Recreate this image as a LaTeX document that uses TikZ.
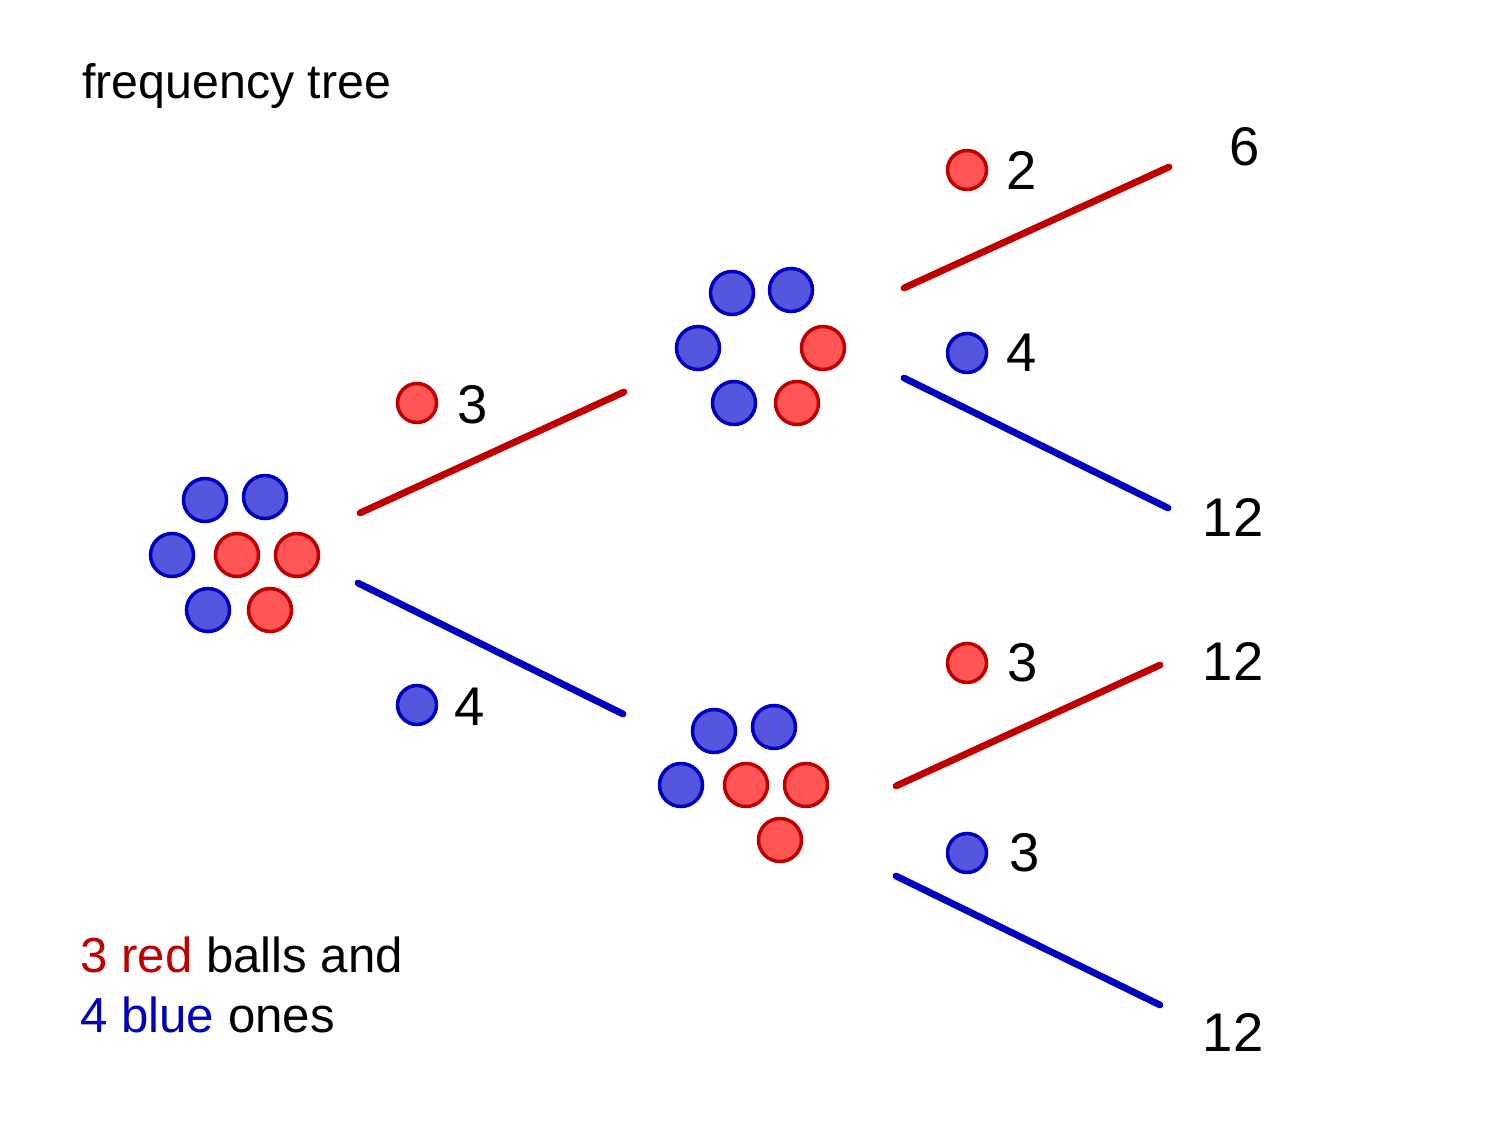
\documentclass[tikz,border=0pt]{standalone}
\usepackage{fontspec}
\setmainfont{Liberation Sans}
\begin{document}
\definecolor{rf}{HTML}{FF5555}\definecolor{rs}{HTML}{C00000}
\definecolor{bf}{HTML}{5555DD}\definecolor{bs}{HTML}{0000C0}
\begin{tikzpicture}[x=0.02cm,y=-0.02cm,
 R/.style={circle,draw=rs,fill=rf,line width=2pt,minimum size=0.86cm,inner sep=0pt},
 B/.style={circle,draw=bs,fill=bf,line width=2pt,minimum size=0.86cm,inner sep=0pt},
 r/.style={R,minimum size=0.78cm},b/.style={B,minimum size=0.78cm},
 rl/.style={draw=rs,line width=3.9pt,line cap=round},
 bl/.style={draw=bs,line width=3.9pt,line cap=round},
 num/.style={font=\fontsize{31}{36}\selectfont},
 txt/.style={font=\fontsize{28}{32}\selectfont,anchor=west,inner sep=0pt}]
\useasboundingbox (0,0) rectangle (1500,1125);
\node[txt,font=\fontsize{27.5}{32}\selectfont] (title) at (82,86) {frequency tree};
% left cluster
\node[B] (l1) at (205,500) {};\node[B] (l2) at (265,497) {};\node[B] (l3) at (172,555) {};\node[B] (l4) at (208,610) {};
\node[R] (l5) at (237,555) {};\node[R] (l6) at (297,555) {};\node[R] (l7) at (270,610) {};
% top cluster
\node[B] (t1) at (732,293) {};\node[B] (t2) at (791,290) {};\node[B] (t3) at (698,348) {};\node[B] (t4) at (734,403) {};
\node[R] (t5) at (823,348) {};\node[R] (t6) at (797,403) {};
% bottom cluster
\node[B] (u1) at (714,731) {};\node[B] (u2) at (774,727) {};\node[B] (u3) at (681,785) {};
\node[R] (u4) at (746,785) {};\node[R] (u5) at (806,785) {};\node[R] (u6) at (780,840) {};
% lines
\coordinate (a1) at (360,513);\coordinate (a2) at (624,392);
\coordinate (b1) at (358,583);\coordinate (b2) at (623,714);
\coordinate (c1) at (904,288);\coordinate (c2) at (1169,167);
\coordinate (d1) at (904,378);\coordinate (d2) at (1168,508);
\coordinate (e1) at (896,786);\coordinate (e2) at (1160,665);
\coordinate (f1) at (896,876);\coordinate (f2) at (1160,1005);
\draw[rl] (a1)--(a2);\draw[bl] (b1)--(b2);\draw[rl] (c1)--(c2);
\draw[bl] (d1)--(d2);\draw[rl] (e1)--(e2);\draw[bl] (f1)--(f2);
% branch labels
\node[r] (s1) at (417,403) {};\node[num] (n1) at (473,405) {3};
\node[b] (s2) at (417,705) {};\node[num] (n2) at (470,707) {4};
\node[r] (s3) at (967,170) {};\node[num] (n3) at (1022,170) {2};
\node[b] (s4) at (967,353) {};\node[num] (n4) at (1022,353) {4};
\node[r] (s5) at (967,663) {};\node[num] (n5) at (1023,663) {3};
\node[b] (s6) at (967,853) {};\node[num] (n6) at (1025,853) {3};
\node[num] (o1) at (1245,147) {6};
\node[num] (o2) at (1233,517) {12};
\node[num] (o3) at (1233,661) {12};
\node[num] (o4) at (1233,1032) {12};
\node[txt] (g1) at (80,955) {\textcolor{rs}{3 red} balls and};
\node[txt] (g2) at (80,1015) {\textcolor{bs}{4 blue} ones};
\end{tikzpicture}
\end{document}
